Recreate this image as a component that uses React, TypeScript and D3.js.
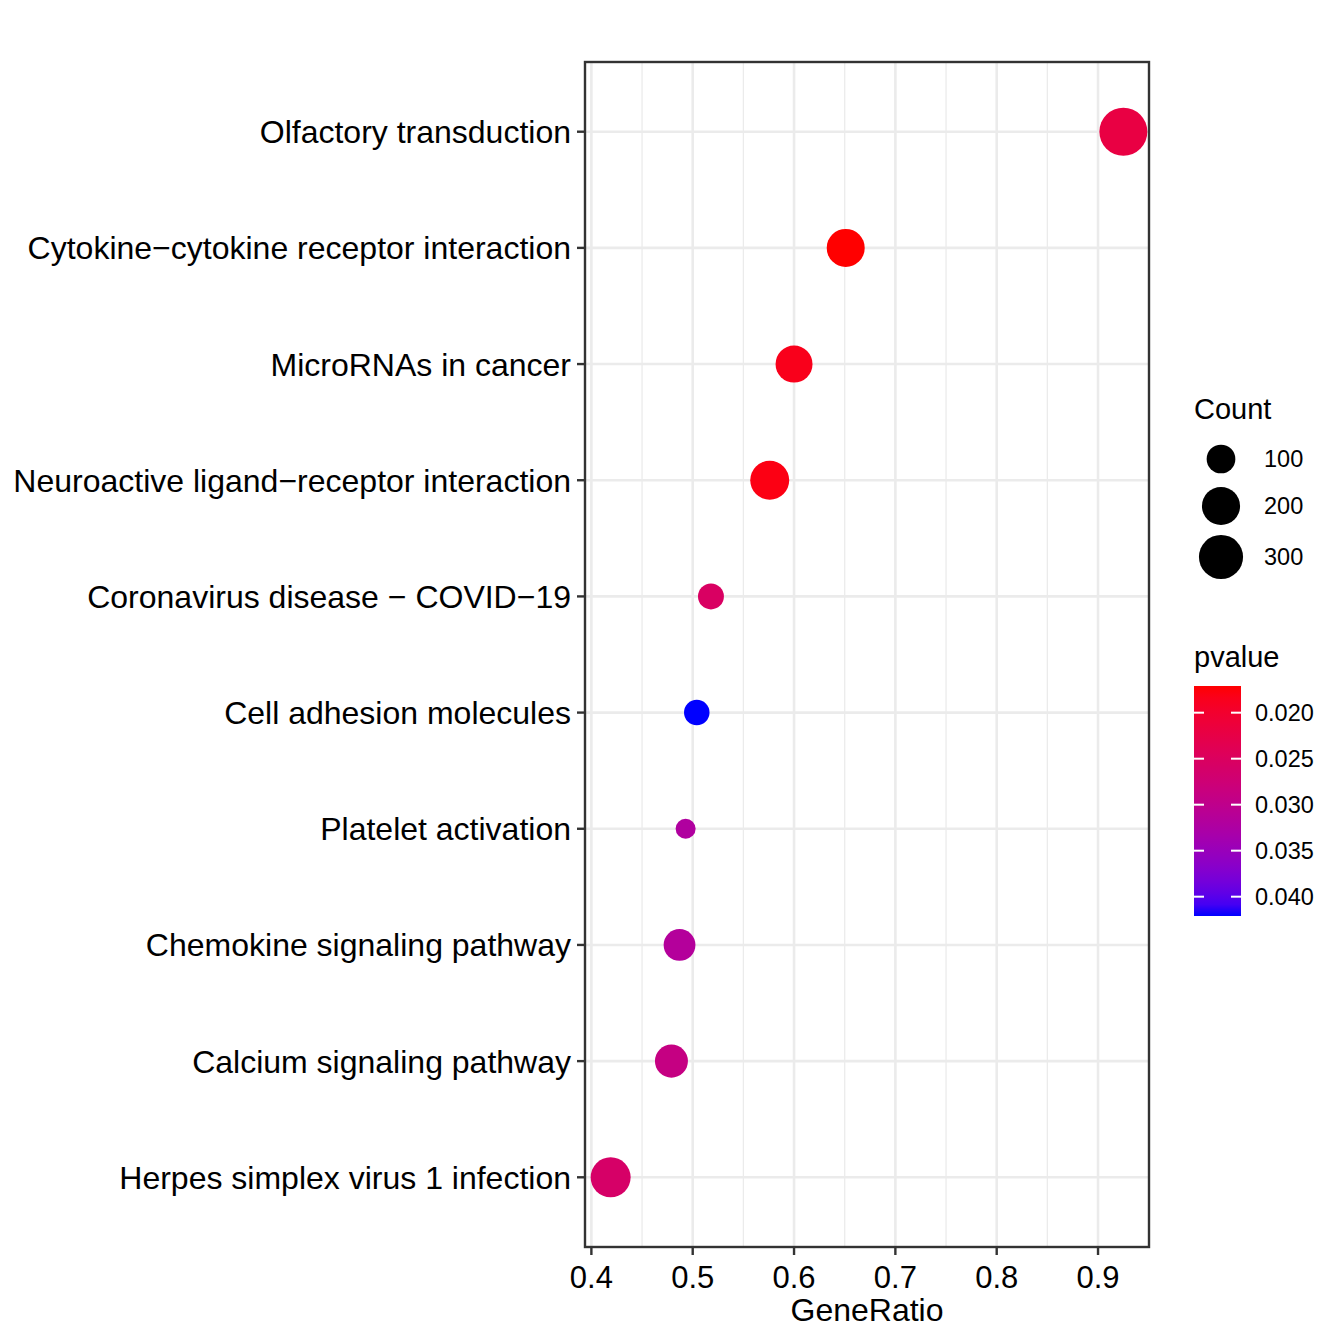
import React from "react";
import * as d3 from "d3";

const categories = [
  "Olfactory transduction",
  "Cytokine\u2212cytokine receptor interaction",
  "MicroRNAs in cancer",
  "Neuroactive ligand\u2212receptor interaction",
  "Coronavirus disease \u2212 COVID\u221219",
  "Cell adhesion molecules",
  "Platelet activation",
  "Chemokine signaling pathway",
  "Calcium signaling pathway",
  "Herpes simplex virus 1 infection",
];
const geneRatio = [0.925, 0.651, 0.6, 0.576, 0.518, 0.504, 0.493, 0.487, 0.479, 0.419];
const counts = [380, 198, 184, 212, 84, 82, 70, 125, 137, 228];
const pvalues = [0.0221, 0.0171, 0.0184, 0.0179, 0.0254, 0.0421, 0.0321, 0.0316, 0.0289, 0.0259];
const xTicks = [0.4, 0.5, 0.6, 0.7, 0.8, 0.9];
const xMinor = [0.45, 0.55, 0.65, 0.75, 0.85];
const sizeBreaks = [100, 200, 300];
const pBreaks = [0.02, 0.025, 0.03, 0.035, 0.04];

const W = 1344, H = 1344;
const L = 585, R = 1149, T = 62, B = 1247;
const FONT = "'Liberation Sans', Arial, Helvetica, sans-serif";
const GRID = "#ebebeb";
const DARK = "#333333";

export default function App() {
  const [xlo, xhi] = d3.extent(geneRatio) as [number, number];
  const pad = (xhi - xlo) * 0.05;
  const x = d3.scaleLinear().domain([xlo - pad, xhi + pad]).range([L, R]);
  const y = d3.scalePoint<string>().domain(categories).range([T, B]).padding(0.6);

  const [cmin, cmax] = d3.extent(counts) as [number, number];
  const rScale = (c: number) => 10 + 14 * Math.sqrt(Math.max(0, c - cmin) / (cmax - cmin));

  const [pmin, pmax] = d3.extent(pvalues) as [number, number];
  const interp = d3.interpolateLab("red", "blue");
  const color = (p: number) => interp((p - pmin) / (pmax - pmin));

  // colorbar
  const cbX = 1194, cbW = 47, cbTop = 686, cbBot = 916;
  const cbY = d3.scaleLinear().domain([pmin, pmax]).range([cbTop, cbBot]);
  const stops = d3.range(0, 21).map((i) => i / 20);

  const sizeKeyY = [459, 506, 557];

  return (
    <svg width={W} height={H} style={{ display: "block", position: "absolute", left: 0, top: 0 }} fontFamily={FONT}>
      <rect x={0} y={0} width={W} height={H} fill="white" />
      <defs>
        <linearGradient id="cb" x1="0" y1="0" x2="0" y2="1">
          {stops.map((s) => (
            <stop key={s} offset={s} stopColor={interp(s)} />
          ))}
        </linearGradient>
        <clipPath id="panel">
          <rect x={L} y={T} width={R - L} height={B - T} />
        </clipPath>
      </defs>

      {/* grid */}
      <g clipPath="url(#panel)">
        {xMinor.map((v) => (
          <line key={"m" + v} x1={x(v)} x2={x(v)} y1={T} y2={B} stroke={GRID} strokeWidth={1.3} />
        ))}
        {xTicks.map((v) => (
          <line key={"M" + v} x1={x(v)} x2={x(v)} y1={T} y2={B} stroke={GRID} strokeWidth={2.6} />
        ))}
        {categories.map((c) => (
          <line key={"h" + c} x1={L} x2={R} y1={y(c)} y2={y(c)} stroke={GRID} strokeWidth={2.6} />
        ))}
        {categories.map((c, i) => (
          <circle key={"p" + c} cx={x(geneRatio[i])} cy={y(c)} r={rScale(counts[i])} fill={color(pvalues[i])} />
        ))}
      </g>
      <rect x={L} y={T} width={R - L} height={B - T} fill="none" stroke={DARK} strokeWidth={2.4} />

      {/* y axis */}
      {categories.map((c) => (
        <g key={"yt" + c}>
          <line x1={L - 8} x2={L} y1={y(c)} y2={y(c)} stroke={DARK} strokeWidth={2.4} />
          <text x={571} y={y(c)} dy="0.36em" textAnchor="end" fontSize={32} fill="black">
            {c}
          </text>
        </g>
      ))}

      {/* x axis */}
      {xTicks.map((v) => (
        <g key={"xt" + v}>
          <line x1={x(v)} x2={x(v)} y1={B} y2={B + 8} stroke={DARK} strokeWidth={2.4} />
          <text x={x(v)} y={1288} textAnchor="middle" fontSize={31} fill="black">
            {d3.format(".1f")(v)}
          </text>
        </g>
      ))}
      <text x={(L + R) / 2} y={1321} textAnchor="middle" fontSize={32} fill="black">
        GeneRatio
      </text>

      {/* size legend */}
      <text x={1194} y={419} fontSize={29} fill="black">Count</text>
      {sizeBreaks.map((b, i) => (
        <g key={"s" + b}>
          <circle cx={1221} cy={sizeKeyY[i]} r={rScale(b)} fill="black" />
          <text x={1264} y={sizeKeyY[i]} dy="0.36em" fontSize={23.5} fill="black">
            {b}
          </text>
        </g>
      ))}

      {/* color legend */}
      <text x={1194} y={667} fontSize={29} fill="black">pvalue</text>
      <rect x={cbX} y={cbTop} width={cbW} height={cbBot - cbTop} fill="url(#cb)" />
      {pBreaks.map((b) => (
        <g key={"c" + b}>
          <line x1={cbX} x2={cbX + 10} y1={cbY(b)} y2={cbY(b)} stroke="white" strokeWidth={2} />
          <line x1={cbX + cbW - 10} x2={cbX + cbW} y1={cbY(b)} y2={cbY(b)} stroke="white" strokeWidth={2} />
          <text x={1255} y={cbY(b)} dy="0.36em" fontSize={23.5} fill="black">
            {d3.format(".3f")(b)}
          </text>
        </g>
      ))}
    </svg>
  );
}
